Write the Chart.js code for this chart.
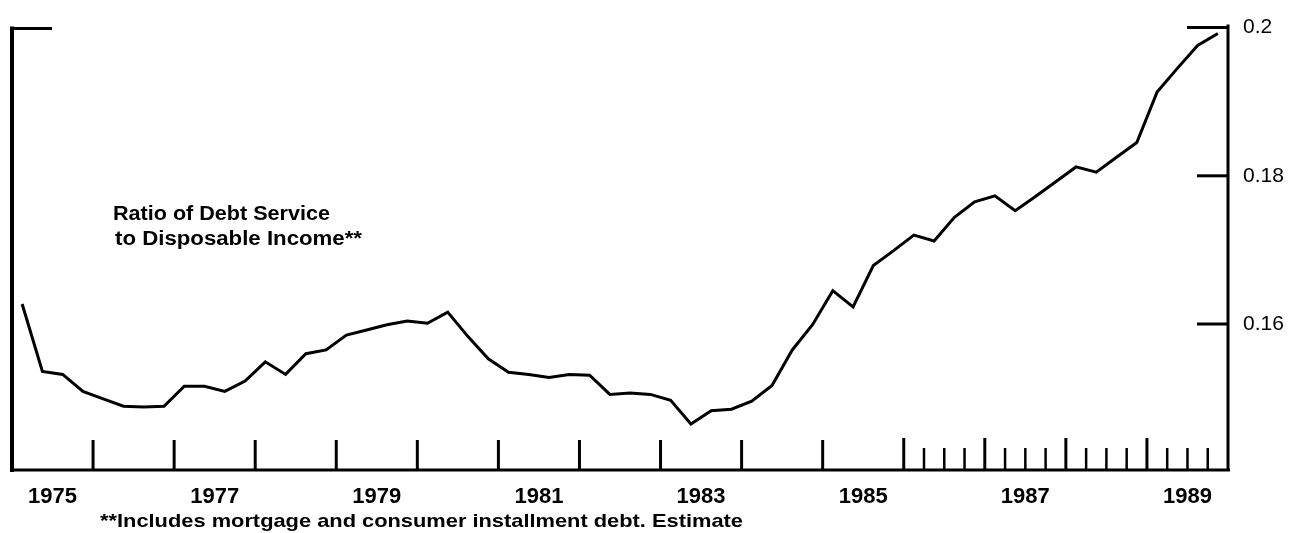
<!DOCTYPE html>
<html><head><meta charset="utf-8">
<script src="https://cdn.jsdelivr.net/npm/chart.js@4.4.1/dist/chart.umd.min.js"></script>
<style>html,body{margin:0;padding:0;background:#fff;}#wrap{width:1300px;height:533px;}</style>
</head><body><div id="wrap"><canvas id="c" width="1300" height="533"></canvas></div>
<script>
const quarters = [
 '1975Q1','1975Q2','1975Q3','1975Q4','1976Q1','1976Q2','1976Q3','1976Q4',
 '1977Q1','1977Q2','1977Q3','1977Q4','1978Q1','1978Q2','1978Q3','1978Q4',
 '1979Q1','1979Q2','1979Q3','1979Q4','1980Q1','1980Q2','1980Q3','1980Q4',
 '1981Q1','1981Q2','1981Q3','1981Q4','1982Q1','1982Q2','1982Q3','1982Q4',
 '1983Q1','1983Q2','1983Q3','1983Q4','1984Q1','1984Q2','1984Q3','1984Q4',
 '1985Q1','1985Q2','1985Q3','1985Q4','1986Q1','1986Q2','1986Q3','1986Q4',
 '1987Q1','1987Q2','1987Q3','1987Q4','1988Q1','1988Q2','1988Q3','1988Q4',
 '1989Q1','1989Q2','1989Q3','1989Q4'
];
const debtServiceRatio = [
 0.1627,0.1536,0.1532,0.1509,0.1499,0.1489,0.1488,0.1489,
 0.1516,0.1516,0.1509,0.1523,0.1549,0.1532,0.1560,0.1565,
 0.1585,0.1592,0.1599,0.1604,0.1601,0.1616,0.1583,0.1553,
 0.1535,0.1532,0.1528,0.1532,0.1531,0.1505,0.1507,0.1505,
 0.1497,0.1465,0.1483,0.1485,0.1496,0.1517,0.1565,0.1599,
 0.1645,0.1623,0.1679,0.1699,0.1720,0.1712,0.1744,0.1765,
 0.1773,0.1753,0.1772,0.1792,0.1812,0.1805,0.1825,0.1845,
 0.1913,0.1945,0.1976,0.1992
];
const yearLabels = ['1975','1977','1979','1981','1983','1985','1987','1989'];
const yTickValues = [0.16, 0.18, 0.2];
const seriesLabelLines = ['Ratio of Debt Service', 'to Disposable Income**'];
const footnoteText = '**Includes mortgage and consumer installment debt. Estimate';
const firstYear = 1975, lastYear = 1990, quarterlyTicksFrom = 1986;

const points = quarters.map((q, i) => {
  const yr = parseInt(q.slice(0, 4), 10), qn = parseInt(q.slice(5), 10);
  return { x: yr + (qn - 0.5) / 4, y: debtServiceRatio[i] };
});

const FONT = '"Liberation Sans", Arial, Helvetica, sans-serif';

function stretchText(ctx, text, x, y, font, width) {
  ctx.font = font;
  const w = ctx.measureText(text).width;
  ctx.save();
  ctx.translate(x, y);
  ctx.scale(width / w, 1);
  ctx.fillText(text, 0, 0);
  ctx.restore();
}

const framePlugin = {
  id: 'frame',
  afterDatasetsDraw(chart) {
    const { ctx, chartArea: a, scales: { x, y } } = chart;
    ctx.save();
    ctx.strokeStyle = '#000';
    ctx.fillStyle = '#000';
    ctx.lineCap = 'butt';
    ctx.lineWidth = 4;
    ctx.beginPath(); ctx.moveTo(a.left, a.top - 1); ctx.lineTo(a.left, a.bottom + 2); ctx.stroke();
    ctx.lineWidth = 3;
    ctx.beginPath(); ctx.moveTo(a.left - 2, a.bottom); ctx.lineTo(a.right + 2, a.bottom); ctx.stroke();
    ctx.beginPath(); ctx.moveTo(a.right, a.top - 3); ctx.lineTo(a.right, a.bottom + 1); ctx.stroke();
    ctx.beginPath(); ctx.moveTo(a.left - 2, a.top + 1); ctx.lineTo(a.left + 40, a.top + 1); ctx.stroke();
    yTickValues.forEach(v => {
      const py = y.getPixelForValue(v);
      const len = v === y.max ? 41 : 31;
      ctx.beginPath(); ctx.moveTo(a.right - len, py); ctx.lineTo(a.right, py); ctx.stroke();
    });
    for (let yr = firstYear + 1; yr < lastYear; yr++) {
      const px = x.getPixelForValue(yr);
      ctx.lineWidth = 3;
      ctx.beginPath(); ctx.moveTo(px, a.bottom); ctx.lineTo(px, a.bottom - (yr >= quarterlyTicksFrom ? 32 : 30)); ctx.stroke();
      if (yr >= quarterlyTicksFrom) {
        ctx.lineWidth = 2.5;
        for (let q = 1; q < 4; q++) {
          const qx = x.getPixelForValue(yr + q / 4);
          ctx.beginPath(); ctx.moveTo(qx, a.bottom); ctx.lineTo(qx, a.bottom - 22); ctx.stroke();
        }
      }
    }
    ctx.textBaseline = 'alphabetic';
    ctx.textAlign = 'left';
    stretchText(ctx, seriesLabelLines[0], a.left + 101, 220, 'bold 20px ' + FONT, 217);
    stretchText(ctx, seriesLabelLines[1], a.left + 103, 245, 'bold 20px ' + FONT, 247);
    stretchText(ctx, footnoteText, 100, 527, 'bold 19px ' + FONT, 643);
    ctx.restore();
  }
};

new Chart(document.getElementById('c').getContext('2d'), {
  type: 'line',
  data: { datasets: [{
    label: seriesLabelLines.join(' '),
    data: points,
    borderColor: '#000', borderWidth: 3, pointRadius: 0, tension: 0, fill: false,
    borderJoinStyle: 'miter'
  }] },
  options: {
    responsive: false, animation: false, devicePixelRatio: 1,
    layout: { padding: { top: 22, left: 12, right: 0, bottom: 0 } },
    plugins: { legend: { display: false }, tooltip: { enabled: false } },
    scales: {
      x: {
        type: 'linear', min: firstYear, max: lastYear,
        grid: { display: false, drawTicks: false }, border: { display: false },
        afterBuildTicks: s => { s.ticks = yearLabels.map(l => ({ value: parseInt(l, 10) + 0.5 })); },
        ticks: { autoSkip: false, maxRotation: 0, padding: 14, color: '#000',
          font: { family: FONT, size: 22, weight: 'bold' },
          callback: (v, i) => yearLabels[i] },
        afterFit: s => { s.height = 63; }
      },
      y: {
        type: 'linear', position: 'right', min: 0.1403, max: 0.2,
        grid: { display: false, drawTicks: false }, border: { display: false },
        afterBuildTicks: s => { s.ticks = yTickValues.map(v => ({ value: v })); },
        ticks: { padding: 15, color: '#000', font: { family: FONT, size: 21 },
          callback: v => String(v) },
        afterFit: s => { s.width = 72; }
      }
    }
  },
  plugins: [framePlugin]
});
</script>
</body></html>
